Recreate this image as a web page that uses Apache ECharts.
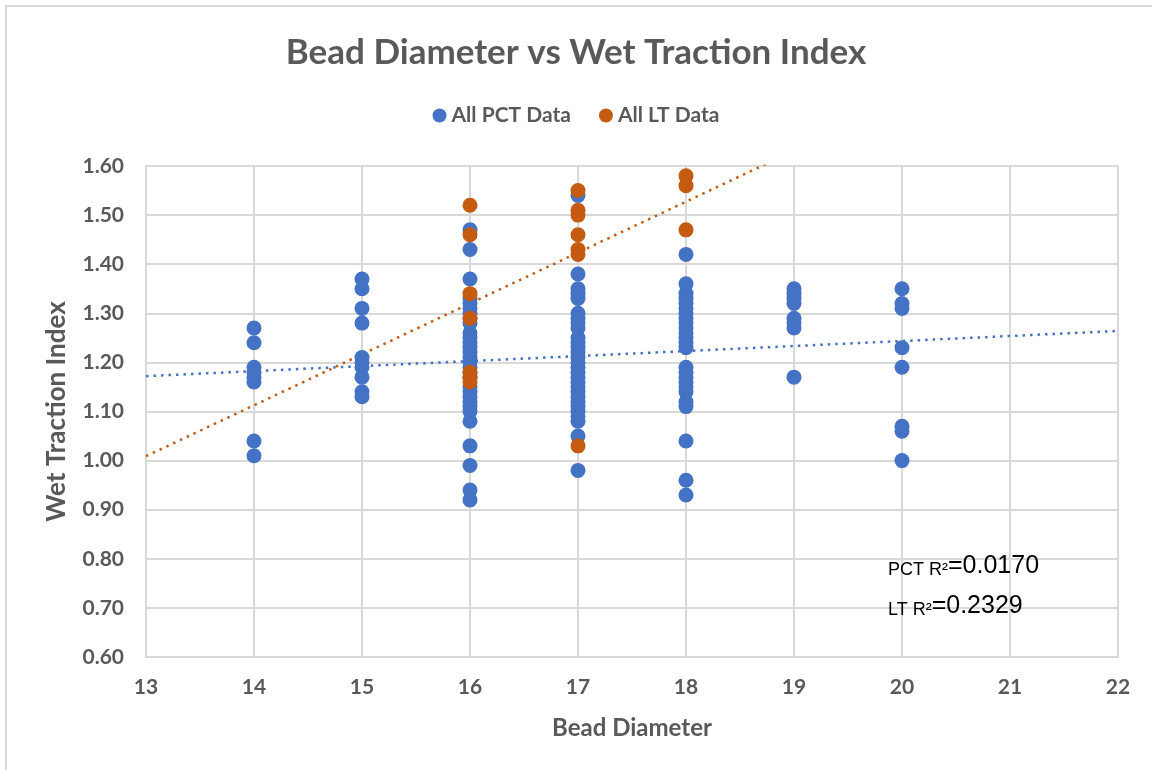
<!DOCTYPE html>
<html>
<head>
<meta charset="utf-8">
<script src="https://cdn.jsdelivr.net/npm/echarts@6/dist/echarts.min.js"></script>
<style>
html,body{margin:0;padding:0;background:#fff;}
#chart{width:1152px;height:770px;}
</style>
</head>
<body>
<div id="chart"></div>
<script>
// Bead diameters and Wet Traction Index readings
const pct14 = [1.27, 1.24, 1.19, 1.18, 1.17, 1.16, 1.04, 1.01];
const pct15 = [1.37, 1.35, 1.31, 1.28, 1.21, 1.20, 1.19, 1.17, 1.14, 1.13];
const pct16 = [1.47, 1.43, 1.37, 1.33, 1.32, 1.31, 1.30, 1.29, 1.28, 1.26, 1.25, 1.24, 1.23, 1.22, 1.21, 1.20, 1.19, 1.18, 1.17, 1.15, 1.14, 1.13, 1.12, 1.11, 1.10, 1.08, 1.03, 0.99, 0.94, 0.92];
const pct17 = [1.54, 1.38, 1.35, 1.34, 1.33, 1.30, 1.29, 1.28, 1.27, 1.25, 1.24, 1.23, 1.22, 1.21, 1.20, 1.19, 1.18, 1.17, 1.16, 1.15, 1.14, 1.13, 1.12, 1.11, 1.10, 1.09, 1.08, 1.05, 0.98];
const pct18 = [1.42, 1.36, 1.34, 1.33, 1.32, 1.31, 1.30, 1.29, 1.28, 1.27, 1.26, 1.25, 1.24, 1.23, 1.19, 1.18, 1.17, 1.16, 1.15, 1.14, 1.12, 1.11, 1.04, 0.96, 0.93];
const pct19 = [1.35, 1.34, 1.33, 1.32, 1.29, 1.28, 1.27, 1.17];
const pct20 = [1.35, 1.32, 1.31, 1.23, 1.19, 1.07, 1.06, 1.00];

const lt16 = [1.52, 1.46, 1.34, 1.29, 1.18, 1.17, 1.16];
const lt17 = [1.55, 1.51, 1.50, 1.46, 1.43, 1.42, 1.03];
const lt18 = [1.58, 1.56, 1.47];

// Trendline end points
const pctTrendX = [13, 22];
const pctTrendY = [1.172, 1.264];
const ltTrendX = [13, 22];
const ltTrendY = [1.009, 1.942];

const xTicks = [13, 14, 15, 16, 17, 18, 19, 20, 21, 22];
const yTicks = [0.6, 0.7, 0.8, 0.9, 1.0, 1.1, 1.2, 1.3, 1.4, 1.5, 1.6];

const pctGroups = [[14, pct14], [15, pct15], [16, pct16], [17, pct17], [18, pct18], [19, pct19], [20, pct20]];
const ltGroups = [[16, lt16], [17, lt17], [18, lt18]];
const toPoints = groups => groups.flatMap(([x, ys]) => ys.map(y => [x, y]));

const BLUE = '#4472C4', ORANGE = '#C55A11', GREY = '#595959', GRID = '#d9d9d9';
const FONT = 'Lato, "Open Sans", sans-serif';
const AFONT = '"Liberation Sans", Arial, sans-serif';

const chart = echarts.init(document.getElementById('chart'), null, {renderer: 'canvas'});
chart.setOption({
  animation: false,
  backgroundColor: '#fff',
  title: {
    text: 'Bead Diameter vs Wet Traction Index',
    left: 'center', top: 30,
    textStyle: {fontFamily: FONT, fontSize: 35, fontWeight: 'bold', color: GREY}
  },
  legend: {
    data: ['All PCT Data', 'All LT Data'],
    top: 100, left: 'center',
    icon: 'circle', itemWidth: 14, itemHeight: 14, itemGap: 28,
    textStyle: {fontFamily: FONT, fontSize: 21, fontWeight: 'bold', color: GREY}
  },
  grid: {left: 146, right: 34, top: 166, bottom: 113, containLabel: false},
  xAxis: {
    type: 'value', min: xTicks[0], max: xTicks[xTicks.length - 1], interval: 1,
    name: 'Bead Diameter', nameLocation: 'middle', nameGap: 59,
    nameTextStyle: {fontFamily: FONT, fontSize: 24, fontWeight: 'bold', color: GREY},
    axisLine: {show: true, lineStyle: {color: GRID, width: 2}},
    axisTick: {show: false},
    axisLabel: {fontFamily: FONT, fontSize: 21, fontWeight: 'bold', color: GREY, margin: 20},
    splitLine: {show: true, lineStyle: {color: GRID, width: 2}}
  },
  yAxis: {
    type: 'value', min: yTicks[0], max: yTicks[yTicks.length - 1], interval: 0.1,
    name: 'Wet Traction Index', nameLocation: 'middle', nameGap: 76, nameRotate: 90,
    nameTextStyle: {fontFamily: FONT, fontSize: 26, fontWeight: 'bold', color: GREY},
    axisLine: {show: true, lineStyle: {color: GRID, width: 2}},
    axisTick: {show: false},
    axisLabel: {fontFamily: FONT, fontSize: 21, fontWeight: 'bold', color: GREY, margin: 22,
      formatter: v => v.toFixed(2)},
    splitLine: {show: true, lineStyle: {color: GRID, width: 2}}
  },
  series: [
    {
      name: 'All PCT Data', type: 'scatter', symbolSize: 15,
      itemStyle: {color: BLUE, opacity: 1},
      data: toPoints(pctGroups), z: 3
    },
    {
      name: 'PCT trend', type: 'line', showSymbol: false, clip: true, silent: true,
      lineStyle: {color: BLUE, width: 2.5, type: [2.5, 5]},
      data: pctTrendX.map((x, i) => [x, pctTrendY[i]]), z: 2
    },
    {
      name: 'All LT Data', type: 'scatter', symbolSize: 15,
      itemStyle: {color: ORANGE, opacity: 1},
      data: toPoints(ltGroups), z: 4
    },
    {
      name: 'LT trend', type: 'line', showSymbol: false, clip: true, silent: true,
      lineStyle: {color: ORANGE, width: 2.5, type: [2.5, 5]},
      data: ltTrendX.map((x, i) => [x, ltTrendY[i]]), z: 2
    }
  ],
  graphic: [
    {type: 'rect', shape: {x: 6, y: 6, width: 1200, height: 800},
      style: {fill: 'none', stroke: GRID, lineWidth: 2}, silent: true, z: -1},
    {type: 'text', left: 888, top: 554, z: 10,
      style: {text: '{a|PCT R²}{b|=0.0170}', rich: {
        a: {fontFamily: AFONT, fontSize: 18, fill: '#000', verticalAlign: 'bottom'},
        b: {fontFamily: AFONT, fontSize: 25, fill: '#000', verticalAlign: 'bottom'}}}},
    {type: 'text', left: 888, top: 594, z: 10,
      style: {text: '{a|LT R²}{b|=0.2329}', rich: {
        a: {fontFamily: AFONT, fontSize: 18, fill: '#000', verticalAlign: 'bottom'},
        b: {fontFamily: AFONT, fontSize: 25, fill: '#000', verticalAlign: 'bottom'}}}}
  ]
});
</script>
</body>
</html>
